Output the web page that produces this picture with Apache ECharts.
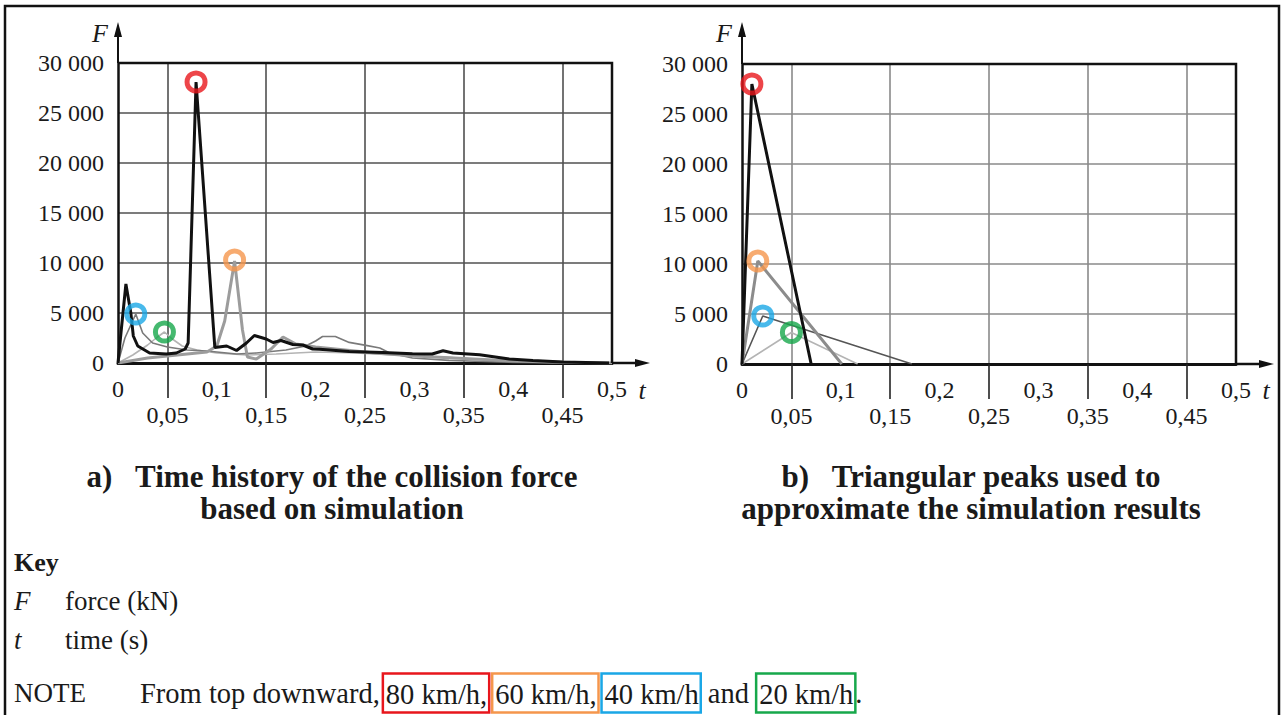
<!DOCTYPE html>
<html><head><meta charset="utf-8">
<script src="https://cdn.jsdelivr.net/npm/echarts@6/dist/echarts.min.js"></script>
<style>html,body{margin:0;padding:0;background:#fff}#c{width:1282px;height:715px}</style>
</head><body><div id="c"></div>
<script>
// ---------- data (t in s, F in kN) ----------
const tickT = [0, 0.05, 0.1, 0.15, 0.2, 0.25, 0.3, 0.35, 0.4, 0.45, 0.5];
const tickF = [0, 5000, 10000, 15000, 20000, 25000, 30000];
const lowerTickT = [0.05, 0.15, 0.25, 0.35, 0.45];

// a) simulation time histories
const sim80 = [[0,0],[0.003,3000],[0.008,7900],[0.013,5000],[0.0155,2700],[0.02,1700],[0.032,1000],[0.049,900],[0.059,1000],[0.068,1400],[0.071,2000],[0.079,28100],[0.098,1550],[0.11,1700],[0.12,1250],[0.13,2000],[0.138,2750],[0.15,2400],[0.157,2050],[0.165,2250],[0.177,1850],[0.187,1800],[0.197,1400],[0.204,1380],[0.234,1160],[0.268,1060],[0.298,930],[0.318,900],[0.329,1230],[0.339,1000],[0.366,830],[0.396,400],[0.42,260],[0.45,100],[0.497,0]];
const sim60 = [[0,0],[0.03,500],[0.06,800],[0.09,1100],[0.1,1700],[0.108,4200],[0.118,10200],[0.126,3300],[0.131,600],[0.14,400],[0.155,1400],[0.167,2600],[0.18,1900],[0.2,1600],[0.23,1300],[0.26,1000],[0.3,700],[0.34,500],[0.38,300],[0.42,150],[0.46,50],[0.5,0]];
const sim40 = [[0,0],[0.007,2500],[0.018,4900],[0.025,3000],[0.035,2000],[0.05,1600],[0.07,1300],[0.09,1200],[0.1,1100],[0.12,900],[0.14,1000],[0.17,1300],[0.19,1700],[0.2,2200],[0.207,2650],[0.22,2650],[0.234,2060],[0.251,1760],[0.265,1500],[0.275,1000],[0.298,500],[0.335,260],[0.37,150],[0.4,60],[0.45,0]];
const sim20 = [[0,0],[0.015,800],[0.03,1800],[0.04,2600],[0.047,3100],[0.055,2400],[0.065,1700],[0.08,1300],[0.1,1000],[0.13,800],[0.16,900],[0.2,1100],[0.24,1000],[0.28,800],[0.3,700],[0.33,600],[0.36,400],[0.4,200],[0.45,50],[0.5,0]];
const simPeaks = [[0.079,28100],[0.118,10300],[0.018,4900],[0.047,3100]];

// b) triangular approximations
const tri80 = [[0,0],[0.01,28000],[0.07,0]];
const tri60 = [[0,0],[0.016,10300],[0.101,0]];
const tri40 = [[0,0],[0.021,4800],[0.172,0]];
const tri20 = [[0,0],[0.05,3150],[0.117,0]];
const triPeaks = [[0.01,28000],[0.016,10300],[0.021,4800],[0.05,3150]];

const peakColors = ['#e8161c', '#f5964c', '#1aa7e6', '#17a84b'];
const speedLabels = ['80 km/h', '60 km/h', '40 km/h', '20 km/h'];

// ---------- chart ----------
const SERIF = '"Liberation Serif", "Times New Roman", serif';
const chart = echarts.init(document.getElementById('c'), null, {renderer: 'svg', width: 1282, height: 715});

function tLabel(v) {
  const h = Math.round(v * 100);
  if (h === 0) return '0';
  const s = (h / 100).toString().replace('.', ',');
  return (h % 10 === 5) ? '\n' + s : s;
}
function fLabel(v) { return v === 0 ? '0' : (v / 1000) + ' 000'; }

function makeX(gi, gridColor) {
  return {
    type: 'value', gridIndex: gi, min: tickT[0], max: tickT[tickT.length - 1], interval: 0.05,
    axisLine: {show: true, onZero: false, lineStyle: {color: '#111', width: 3}},
    axisTick: {show: true, customValues: lowerTickT, length: 35, lineStyle: {color: '#222', width: 1.6}},
    axisLabel: {formatter: tLabel, fontFamily: SERIF, fontSize: 24, lineHeight: 26, margin: 13, color: '#1a1a1a'},
    splitLine: {show: true, lineStyle: {color: gridColor, width: 1.6}}
  };
}
function makeY(gi, gridColor) {
  return {
    type: 'value', gridIndex: gi, min: tickF[0], max: tickF[tickF.length - 1], interval: 5000,
    axisLine: {show: true, lineStyle: {color: '#111', width: 2.5}},
    axisTick: {show: false},
    axisLabel: {formatter: fLabel, fontFamily: SERIF, fontSize: 24, margin: 14, color: '#1a1a1a'},
    splitLine: {show: true, lineStyle: {color: gridColor, width: 1.6}}
  };
}
function line(data, i, color, width, z) {
  return {type: 'line', xAxisIndex: i, yAxisIndex: i, data: data, symbol: 'none', silent: true,
    lineStyle: {color: color, width: width}, z: z};
}
function rings(points, i) {
  return {type: 'scatter', xAxisIndex: i, yAxisIndex: i, symbol: 'circle', symbolSize: 18, z: 20, silent: true,
    data: points.map((p, k) => ({value: p, itemStyle: {color: 'rgba(255,255,255,0)', borderColor: peakColors[k], borderWidth: 5}}))};
}

const G = [{x: 118, y: 63, w: 494, h: 300}, {x: 742, y: 64, w: 494, h: 300}];

const graphics = [
  {type: 'rect', shape: {x: 5, y: 6, width: 1274, height: 730}, style: {fill: 'none', stroke: '#111', lineWidth: 2.5}, z: 1}
];
G.forEach((g) => {
  const xr = g.x + g.w, yb = g.y + g.h;
  graphics.push(
    {type: 'polyline', shape: {points: [[g.x, g.y], [xr, g.y], [xr, yb]]}, style: {stroke: '#111', lineWidth: 2.5, fill: null}, z: 50},
    {type: 'line', shape: {x1: g.x, y1: g.y, x2: g.x, y2: 30}, style: {stroke: '#111', lineWidth: 2}, z: 50},
    {type: 'polygon', shape: {points: [[g.x, 22], [g.x - 4, 37], [g.x + 4, 37]]}, style: {fill: '#111'}, z: 50},
    {type: 'line', shape: {x1: xr, y1: yb, x2: xr + 28, y2: yb}, style: {stroke: '#111', lineWidth: 2.5}, z: 50},
    {type: 'polygon', shape: {points: [[xr + 38, yb], [xr + 23, yb - 4], [xr + 23, yb + 4]]}, style: {fill: '#111'}, z: 50},
    {type: 'text', x: g.x - 18, y: 33, style: {text: 'F', font: 'italic 26px ' + SERIF, fill: '#1a1a1a', textAlign: 'center', textVerticalAlign: 'middle'}, z: 50},
    {type: 'text', x: xr + 30, y: 390, style: {text: 't', font: 'italic 26px ' + SERIF, fill: '#1a1a1a', textAlign: 'center', textVerticalAlign: 'middle'}, z: 50}
  );
});
const titleFont = 'bold 31px ' + SERIF;
const bodyFont = '27px ' + SERIF;
const noteFont = '28.5px ' + SERIF;
graphics.push(
  {type: 'text', x: 332, y: 476, style: {text: 'a)   Time history of the collision force', font: titleFont, fill: '#1a1a1a', textAlign: 'center', textVerticalAlign: 'middle'}},
  {type: 'text', x: 332, y: 508, style: {text: 'based on simulation', font: titleFont, fill: '#1a1a1a', textAlign: 'center', textVerticalAlign: 'middle'}},
  {type: 'text', x: 971, y: 476, style: {text: 'b)   Triangular peaks used to', font: titleFont, fill: '#1a1a1a', textAlign: 'center', textVerticalAlign: 'middle'}},
  {type: 'text', x: 971, y: 508, style: {text: 'approximate the simulation results', font: titleFont, fill: '#1a1a1a', textAlign: 'center', textVerticalAlign: 'middle'}},
  {type: 'text', x: 14, y: 562, style: {text: 'Key', font: 'bold 26px ' + SERIF, fill: '#1a1a1a', textVerticalAlign: 'middle'}},
  {type: 'text', x: 14, y: 601, style: {text: 'F', font: 'italic 27px ' + SERIF, fill: '#1a1a1a', textVerticalAlign: 'middle'}},
  {type: 'text', x: 65, y: 601, style: {text: 'force (kN)', font: bodyFont, fill: '#1a1a1a', textVerticalAlign: 'middle'}},
  {type: 'text', x: 14, y: 640, style: {text: 't', font: 'italic 27px ' + SERIF, fill: '#1a1a1a', textVerticalAlign: 'middle'}},
  {type: 'text', x: 65, y: 640, style: {text: 'time (s)', font: bodyFont, fill: '#1a1a1a', textVerticalAlign: 'middle'}},
  {type: 'text', x: 14, y: 693, style: {text: 'NOTE', font: bodyFont, fill: '#1a1a1a', textVerticalAlign: 'middle'}}
);
const box = (c) => ({fontFamily: SERIF, fontSize: 28.5, color: '#1a1a1a', borderColor: c, borderWidth: 2.5, padding: [6, 2, 4, 3]});
graphics.push({
  type: 'text', x: 140, y: 693,
  style: {
    text: 'From top downward,{sp| }{r|' + speedLabels[0] + ',}{sp| }{o|' + speedLabels[1] + ',}{sp| }{b|' + speedLabels[2] + '} and {g|' + speedLabels[3] + '}.',
    font: noteFont, fill: '#1a1a1a', textVerticalAlign: 'middle',
    rich: {sp: {fontSize: 12, fontFamily: SERIF}, r: box(peakColors[0]), o: box(peakColors[1]), b: box(peakColors[2]), g: box(peakColors[3])}
  }
});

chart.setOption({
  animation: false,
  backgroundColor: '#fff',
  grid: G.map(g => ({left: g.x, top: g.y, width: g.w, height: g.h, show: false})),
  xAxis: [makeX(0, '#505050'), makeX(1, '#8a8a8a')],
  yAxis: [makeY(0, '#505050'), makeY(1, '#8a8a8a')],
  series: [
    line(sim20, 0, '#b4b4b4', 1.6, 5),
    line(sim40, 0, '#7a7a7a', 1.6, 6),
    line(sim60, 0, '#9c9c9c', 3, 7),
    line(sim80, 0, '#111', 3, 8),
    rings(simPeaks, 0),
    line(tri20, 1, '#b4b4b4', 1.6, 5),
    line(tri40, 1, '#555', 1.6, 6),
    line(tri60, 1, '#8c8c8c', 3, 7),
    line(tri80, 1, '#111', 3, 8),
    rings(triPeaks, 1)
  ],
  graphic: graphics
});
</script>
</body></html>
